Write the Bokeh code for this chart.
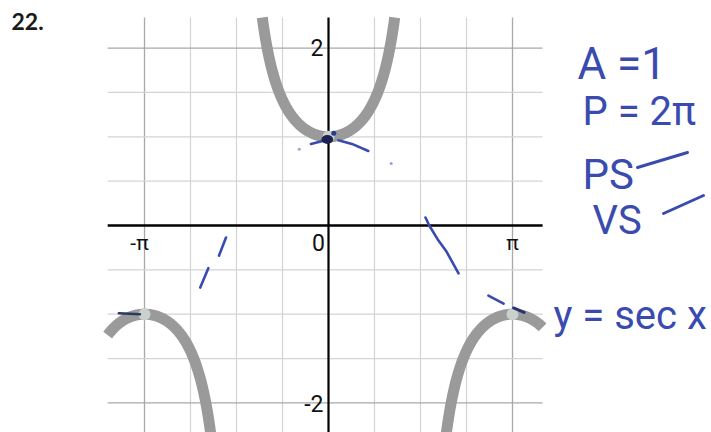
import numpy as np
from bokeh.plotting import figure
from bokeh.models import Range1d
from bokeh.embed import file_html
from bokeh.resources import INLINE
from bokeh.core.properties import value

# ---- chart content -------------------------------------------------------
PI = np.pi
problem_number = "22."
x_tick_values = [-PI, 0.0, PI]
x_tick_labels = ["-π", "0", "π"]
y_tick_values = [2.0, -2.0]
y_tick_labels = ["2", "-2"]
grid_x_quarters = [-4, -3, -2, -1, 1, 2, 3, 4]          # multiples of pi/4
grid_y_values = [-2.0, -1.5, -1.0, -0.5, 0.5, 1.0, 1.5, 2.0]
key_x = [-PI, 0.0, PI]                                    # turning points
key_y = [-1.0, 1.0, -1.0]
notes = ["A =1", "P = 2π", "PS", "VS", "y = sec x"]

# graph window (radians / units) of the printed grid
X_MIN, X_MAX = -3.77, 3.655
Y_TOP = 2.345

# ---- page geometry ---------------------------------------------------------
W, H = 711, 432
X0, Y0 = 328.0, 225.0            # where the origin sits on the page
SX = 46.0 / (PI / 4)             # px per radian
SY = 88.7                        # px per unit


def dx(px):
    return (px - X0) / SX


def dy(py):
    return (Y0 - py) / SY


p = figure(width=W, height=H, output_backend="svg", toolbar_location=None,
           x_range=Range1d(dx(0), dx(W)), y_range=Range1d(dy(H), dy(0)),
           min_border=0, outline_line_color=None, background_fill_color="white",
           border_fill_color="white")
p.xaxis.visible = False
p.yaxis.visible = False
p.xgrid.visible = False
p.ygrid.visible = False

Y_BOT = dy(H)

# ---- grid -------------------------------------------------------------------
gx = [q * PI / 4 for q in grid_x_quarters]
light_x = [v for q, v in zip(grid_x_quarters, gx) if abs(q) != 4]
dark_x = [v for q, v in zip(grid_x_quarters, gx) if abs(q) == 4]
p.segment(x0=light_x, y0=[Y_BOT] * len(light_x), x1=light_x, y1=[Y_TOP] * len(light_x),
          line_color="#d4d4d4", line_width=1.2)
p.segment(x0=dark_x, y0=[Y_BOT] * len(dark_x), x1=dark_x, y1=[Y_TOP] * len(dark_x),
          line_color="#a8a8a8", line_width=1.3)
light_y = [v for v in grid_y_values if abs(v) != 2]
dark_y = [v for v in grid_y_values if abs(v) == 2]
p.segment(x0=[X_MIN] * len(light_y), y0=light_y, x1=[X_MAX] * len(light_y), y1=light_y,
          line_color="#d4d4d4", line_width=1.2)
p.segment(x0=[X_MIN] * len(dark_y), y0=dark_y, x1=[X_MAX] * len(dark_y), y1=dark_y,
          line_color="#a8a8a8", line_width=1.3)

# ---- axes -------------------------------------------------------------------
p.segment(x0=[X_MIN], y0=[0], x1=[X_MAX], y1=[0], line_color="black", line_width=2.6)
p.segment(x0=[0], y0=[Y_BOT], x1=[0], y1=[Y_TOP], line_color="black", line_width=2.2)

# ---- y = sec x ----------------------------------------------------------------
x_lim_top = np.arccos(1.0 / Y_TOP)
branches = [
    np.linspace(X_MIN, -PI / 2 - 0.05, 300),
    np.linspace(-x_lim_top, x_lim_top, 300),
    np.linspace(PI / 2 + 0.05, X_MAX, 300),
]
for bx in branches:
    by = 1.0 / np.cos(bx)
    keep = by > Y_BOT - 0.3
    p.line(bx[keep], by[keep], line_color="#9a9a9a", line_width=11,
           line_cap="butt", line_join="round")

p.scatter(key_x, key_y, size=12, fill_color="#c9d1cd", line_color=None)

# ---- tick labels ------------------------------------------------------------
num_font = value("Roboto")
p.text(x=[x_tick_values[0] - dx(X0 + 5)], y=[dy(242)], text=[x_tick_labels[0]],
       text_font=num_font, text_font_size="21px", text_align="center",
       text_baseline="middle", text_color="#111111")
p.text(x=[dx(318)], y=[dy(242)], text=[x_tick_labels[1]],
       text_font=num_font, text_font_size="23px", text_align="center",
       text_baseline="middle", text_color="#111111")
p.text(x=[x_tick_values[2]], y=[dy(242)], text=[x_tick_labels[2]],
       text_font=num_font, text_font_size="21px", text_align="center",
       text_baseline="middle", text_color="#111111")
p.text(x=[dx(323)] * 2, y=[y_tick_values[0] - dy(Y0 + 1), y_tick_values[1] - dy(Y0 - 1)],
       text=y_tick_labels, text_font=num_font, text_font_size="23px",
       text_align="right", text_baseline="middle", text_color="#111111")

# ---- problem number -----------------------------------------------------------
p.text(x=[dx(11)], y=[dy(21)], text=[problem_number], text_font=value("Lato"),
       text_font_style="bold", text_font_size="23px", text_baseline="middle",
       text_color="#1a1a1a")

# ---- pen marks on the graph ----------------------------------------------------
PEN = "#3a4bb0"
pen_strokes = [
    ([1.656, 1.72, 1.878, 2.02, 2.22], [0.09, 0.0, -0.17, -0.30, -0.54]),
    ([-1.750, -1.87], [-0.135, -0.34]),
    ([-2.05, -2.19], [-0.48, -0.70]),
    ([2.73, 2.99], [-0.79, -0.88]),
    ([-0.30, -0.05], [0.92, 0.96]),
    ([0.17, 0.40, 0.68], [0.96, 0.92, 0.84]),
]
for sx_, sy_ in pen_strokes:
    p.line(sx_, sy_, line_color=PEN, line_width=2.6, line_cap="round")

p.line([3.16, 3.34], [-0.93, -0.98], line_color="#2a3270", line_width=3, line_cap="round")
p.line([-3.58, -3.22], [-0.99, -1.0], line_color="#2a3a60", line_width=2.5, line_cap="round")
p.ellipse(x=[-0.02], y=[0.97], width=0.2, height=0.1, fill_color="#1d2250",
          line_color=None)
p.scatter([0.09], [1.04], size=5, fill_color="#2c3a90", line_color=None)
p.scatter([-0.5, 1.07], [0.86, 0.70], size=3, fill_color="#6d7bc4", line_color=None,
          alpha=0.7)

# ---- handwritten notes --------------------------------------------------------
# text is anchored at the bottom of its line box, so lift by the descent
hand = value("Roboto")
note_pos = [(577, 78), (582, 124), (582, 187), (592, 233), (553, 328)]
note_size = [44, 40, 42, 40, 40]
for t, (px, py), fs in zip(notes, note_pos, note_size):
    p.text(x=[dx(px)], y=[dy(py + 0.27 * fs)], text=[t], text_font=hand,
           text_font_size=f"{fs}px", text_color=PEN, text_baseline="bottom")

# dashes after PS / VS, drawn with a slight upward slant
p.line([dx(637), dx(687)], [dy(167), dy(152)], line_color=PEN, line_width=3, line_cap="round")
p.line([dx(663), dx(703)], [dy(213), dy(195)], line_color=PEN, line_width=3, line_cap="round")

open("out.html", "w").write(file_html(p, INLINE))
